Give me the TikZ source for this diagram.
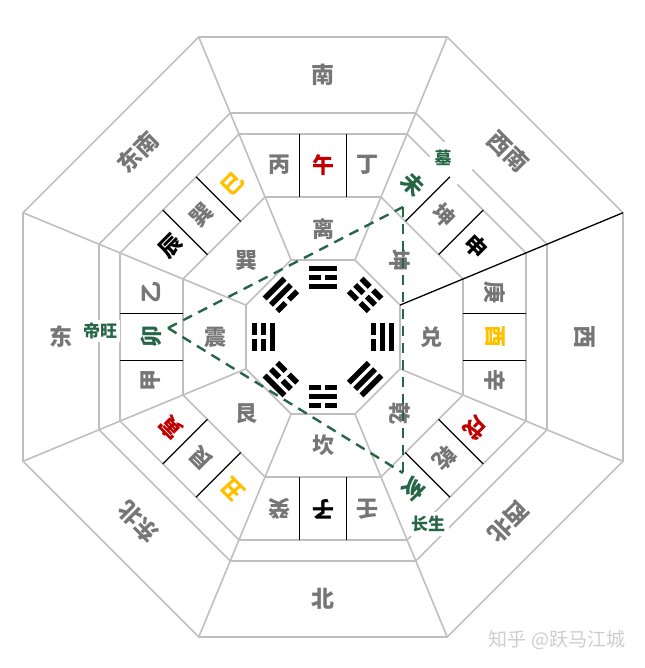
\documentclass[tikz,border=0pt]{standalone}
\usepackage{fontspec}
\newfontfamily\cjk{Noto Sans CJK SC}
\usetikzlibrary{positioning}
\definecolor{linegray}{RGB}{191,191,191}
\definecolor{textgray}{RGB}{118,118,118}
\definecolor{firered}{RGB}{192,0,0}
\definecolor{earthgold}{RGB}{255,192,0}
\definecolor{woodgreen}{RGB}{38,102,70}
\definecolor{markgray}{RGB}{205,205,205}

% one bar of a trigram: #1 = distance from centre, #2 = 1 solid / 0 broken
\newcommand\guabar[2]{%
  \ifnum#2=1
    \fill (-14,#1-2.75) rectangle (14,#1+2.75);
  \else
    \fill (-14,#1-2.75) rectangle (-2.4,#1+2.75);
    \fill (2.4,#1-2.75) rectangle (14,#1+2.75);
  \fi}

\begin{document}
\begin{tikzpicture}[x=1pt,y=1pt,
    grid/.style={draw=linegray, line width=1.6pt},
    sepline/.style={draw=black, line width=1.3pt},
    dirlabel/.style={font=\cjk\bfseries\fontsize{23}{23}\selectfont, text=textgray, inner sep=0pt},
    gualabel/.style={font=\cjk\bfseries\fontsize{22}{22}\selectfont, text=textgray, inner sep=0pt},
    mtn/.style={font=\cjk\bfseries\fontsize{22}{22}\selectfont, inner sep=0pt},
    tag/.style={font=\cjk\bfseries\fontsize{17}{17}\selectfont, text=woodgreen,
      fill=white, inner sep=3pt},
    triline/.style={draw=woodgreen, line width=2.4pt, dash pattern=on 10pt off 7pt},
    watermark/.style={font=\cjk\fontsize{19}{19}\selectfont, text=markgray, inner sep=0pt}
  ]
  \useasboundingbox (0,0) rectangle (644,668);

  \begin{scope}[shift={(323,331)}]
    % rings
    \foreach \a in {300,224,203,140,77}
      \draw[grid] (22.5:\a/0.92388)
        \foreach \k in {1,...,7} { -- ({22.5+45*\k}:\a/0.92388) } -- cycle;
    % spokes
    \foreach \k in {1,...,7}
      \draw[grid] ({22.5+45*\k}:83.4) -- ({22.5+45*\k}:324.7);
    \draw[sepline] (22.5:83.4) -- (22.5:324.7);
    % white patch behind the 墓 tag
    \fill[white, rotate=-45] (-52,198) rectangle (-13,229);

    % sectors: direction, its rotation, trigram name, its rotation, three mountains
    \foreach \ang/\dir/\dirrot/\gua/\guarot/\ma/\ca/\mb/\cb/\mc/\cc [count=\i] in {
        90/南/0/离/0/丙/textgray/午/firered/丁/textgray,
        45/西南/-45/坤/-90/未/woodgreen/坤/textgray/申/black,
        0/西/-90/兑/0/庚/textgray/酉/earthgold/辛/textgray,
        -45/西北/-135/乾/-90/戌/firered/乾/textgray/亥/woodgreen,
        -90/北/0/坎/0/壬/textgray/子/black/癸/textgray,
        -135/东北/135/艮/0/丑/earthgold/艮/textgray/寅/firered,
        180/东/0/震/0/甲/textgray/卯/woodgreen/乙/textgray,
        135/东南/45/巽/0/辰/black/巽/textgray/巳/earthgold} {
      \begin{scope}[rotate=\ang-90]
        \draw[sepline] (-23.5,140) -- (-23.5,203);
        \draw[sepline] (23.5,140) -- (23.5,203);
        \node[dirlabel, rotate=\dirrot] (dir-\i) at (0,262) {\dir};
        \node[gualabel, rotate=\guarot] (gua-\i) at (0,108) {\gua};
        \node[mtn, text=\ca, rotate=\ang-90] (mtn-\i-1) at (-44,172) {\ma};
        \node[mtn, text=\cb, rotate=\ang-90] (mtn-\i-2) at (0,172) {\mb};
        \node[mtn, text=\cc, rotate=\ang-90] (mtn-\i-3) at (44,172) {\mc};
      \end{scope}
    }

    % trigrams, bars listed from the centre outwards
    \foreach \ang/\p/\q/\r in {90/1/0/1, 45/0/0/0, 0/0/1/1, -45/1/1/1,
        -90/0/1/0, -135/0/0/1, 180/1/0/0, 135/0/1/1} {
      \begin{scope}[rotate=\ang-90]
        \guabar{50.5}{\p}
        \guabar{59.5}{\q}
        \guabar{68.5}{\r}
      \end{scope}
    }

    % wood triangle hai-mao-wei
    \coordinate (mao-tip) at (-155,9);
    \coordinate (wei-tip) at (80,130);
    \coordinate (hai-tip) at (80,-136);
    \draw[triline] (mao-tip) -- (wei-tip);
    \draw[triline] (mao-tip) -- (hai-tip);
    \draw[triline] (wei-tip) -- (hai-tip);

    \node[tag] (diwang) at (-223,6) {帝旺};
    \node[tag] (mu) at (120,179) {墓};
    \node[tag, inner sep=4pt] (changsheng) at (105,-187) {长生};
  \end{scope}

  \node[watermark] (zhihu) at (557,28) {知乎 @跃马江城};
\end{tikzpicture}
\end{document}
